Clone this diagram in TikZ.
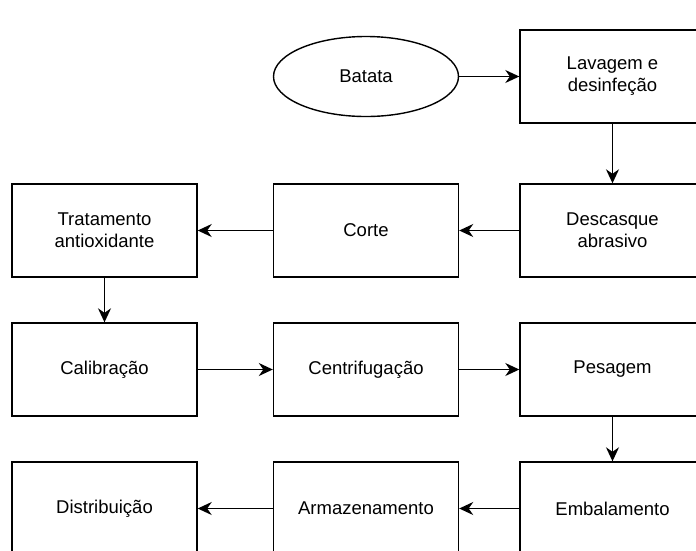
\documentclass[tikz,border=0pt]{standalone}
\usepackage{fontspec}
\setmainfont{Liberation Sans}
\usetikzlibrary{arrows.meta,shapes.geometric}
\begin{document}
\begin{tikzpicture}[x=1pt,y=-1pt,
  stepbox/.style={draw, line width=1.4pt, minimum width=185pt, minimum height=93pt, inner sep=0pt, align=center, font=\fontsize{18.5}{22}\selectfont},
  startnode/.style={draw, ellipse, line width=1.4pt, minimum width=185pt, minimum height=80pt, inner sep=0pt, font=\fontsize{18.5}{22}\selectfont},
  flow/.style={line width=1.4pt, -{Stealth[length=14pt,width=13pt,inset=4.5pt]}}]
\clip (0,0) rectangle (696,550);
\useasboundingbox (0,0) rectangle (696,550);
\node[startnode] (batata) at (366,76.5) {Batata};
\node[stepbox] (lav) at (612.5,76.5) {Lavagem e\\desinfeção};
\node[stepbox] (desc) at (612.5,230.5) {Descasque\\abrasivo};
\node[stepbox] (corte) at (366,230.5) {Corte};
\node[stepbox] (trat) at (104.5,230.5) {Tratamento\\antioxidante};
\node[stepbox] (cal) at (104.5,369.5) {Calibração};
\node[stepbox] (cent) at (366,369.5) {Centrifugação};
\node[stepbox] (pes) at (612.5,369.5) {Pesagem};
\node[stepbox] (emb) at (612.5,508.5) {Embalamento};
\node[stepbox] (arm) at (366,508.5) {Armazenamento};
\node[stepbox] (dist) at (104.5,508.5) {Distribuição};
\draw[flow] (batata) -- (lav);
\draw[flow] (lav) -- (desc);
\draw[flow] (desc) -- (corte);
\draw[flow] (corte) -- (trat);
\draw[flow] (trat) -- (cal);
\draw[flow] (cal) -- (cent);
\draw[flow] (cent) -- (pes);
\draw[flow] (pes) -- (emb);
\draw[flow] (emb) -- (arm);
\draw[flow] (arm) -- (dist);
\end{tikzpicture}
\end{document}
